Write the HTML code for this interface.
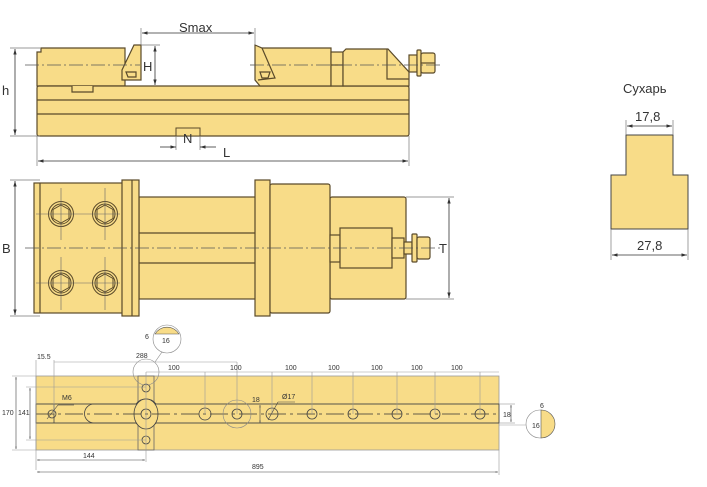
<!DOCTYPE html>
<html><head><meta charset="utf-8"><style>
html,body{margin:0;padding:0;background:#fff;}
svg{display:block;}
text{font-family:"Liberation Sans","Noto Sans CJK SC",sans-serif;fill:#333;}
</style></head><body>
<svg width="707" height="487" viewBox="0 0 707 487" xmlns="http://www.w3.org/2000/svg">
<defs>
<marker id="a" viewBox="0 0 10 10" refX="10" refY="5" markerWidth="7" markerHeight="7" orient="auto-start-reverse"><path d="M0,2 L10,5 L0,8 z" fill="#333"/></marker>
<marker id="s" viewBox="0 0 10 10" refX="10" refY="5" markerWidth="4" markerHeight="4" orient="auto-start-reverse"><path d="M0,2 L10,5 L0,8 z" fill="#555"/></marker>
</defs>
<g fill="#f8dc88" stroke="#5a4a2a" stroke-width="1.2">
<!-- TOP VIEW -->
<path d="M37,86 L37,52 L41,52 L41,48 L125,48 L125,86 Z"/>
<rect x="37" y="86" width="372" height="50" rx="2"/>
<path d="M72,86 L72,92 L93,92 L93,86" fill="#f8dc88"/>
<line x1="37" y1="100" x2="409" y2="100"/>
<line x1="37" y1="114" x2="409" y2="114"/>
<path d="M134,45 L141,45 L141,80 L122,80 L122,70 Z"/>
<path d="M126,72 L136,72 L136,77 L128,77 Z"/>
<path d="M255,45 L262,48 L331,48 L331,86 L260,86 L255,80 Z"/>
<path d="M262,48 L275,78 L258,80"/>
<path d="M260,72 L270,72 L268,78 L262,78 Z"/>
<rect x="331" y="52" width="12" height="34"/>
<line x1="331" y1="65" x2="343" y2="65"/>
<path d="M346,49 L388,49 L409,72 L409,86 L343,86 L343,52 Z"/>
<path d="M387,49 L387,79 L409,79"/>
<rect x="409" y="55" width="8" height="17"/>
<rect x="417" y="50" width="4" height="26" rx="1"/>
<rect x="421" y="53" width="14" height="20" rx="2"/>
<line x1="421" y1="63" x2="435" y2="63"/>
<rect x="176" y="128" width="24" height="8" stroke-width="1"/>
<!-- MIDDLE VIEW -->
<rect x="139" y="197" width="120" height="102"/>
<line x1="139" y1="233" x2="255" y2="233"/>
<line x1="139" y1="263" x2="255" y2="263"/>
<rect x="330" y="197" width="76" height="102" rx="2"/>
<rect x="34" y="183" width="90" height="130"/>
<line x1="40" y1="183" x2="40" y2="313"/>
<rect x="122" y="180" width="17" height="136"/>
<line x1="132" y1="180" x2="132" y2="316"/>
<rect x="255" y="180" width="15" height="136"/>
<rect x="270" y="184" width="60" height="129" rx="2"/>
<rect x="330" y="235" width="10" height="27"/>
<rect x="340" y="228" width="52" height="40"/>
<rect x="392" y="238" width="12" height="20"/>
<rect x="404" y="242" width="8" height="12"/>
<rect x="412" y="234" width="5" height="28" rx="1"/>
<rect x="417" y="237" width="13" height="22" rx="2"/>
</g>
<g fill="none" stroke="#5a4a2a" stroke-width="1">
<g id="b"><circle cx="61" cy="214" r="12.5"/><polygon points="61,205 69,209.5 69,218.5 61,223 53,218.5 53,209.5"/><circle cx="61" cy="214" r="10"/></g>
<use href="#b" x="44"/><use href="#b" y="69"/><use href="#b" x="44" y="69"/>
</g>
<g stroke="#666" stroke-width="0.6">
<line x1="36" y1="214" x2="120" y2="214"/><line x1="36" y1="283" x2="120" y2="283"/>
<line x1="61" y1="188" x2="61" y2="240"/><line x1="105" y1="188" x2="105" y2="240"/>
<line x1="61" y1="257" x2="61" y2="310"/><line x1="105" y1="257" x2="105" y2="310"/>
</g>
<g stroke="#555" stroke-width="0.8" stroke-dasharray="14,3,2,3">
<line x1="25" y1="65" x2="140" y2="65"/><line x1="250" y1="65" x2="440" y2="65"/>
<line x1="25" y1="248" x2="440" y2="248"/>
</g>
<!-- dims top/middle -->
<g stroke="#777" stroke-width="0.7" fill="none">
<line x1="10" y1="48" x2="40" y2="48"/><line x1="10" y1="136" x2="40" y2="136"/>
<line x1="141" y1="28" x2="141" y2="45"/><line x1="255" y1="28" x2="255" y2="45"/>
<line x1="141" y1="45" x2="160" y2="45"/>
<line x1="37" y1="136" x2="37" y2="166"/><line x1="409" y1="136" x2="409" y2="166"/>
<line x1="176" y1="136" x2="176" y2="150"/><line x1="200" y1="136" x2="200" y2="150"/>
<line x1="10" y1="180" x2="40" y2="180"/><line x1="10" y1="316" x2="40" y2="316"/>
<line x1="406" y1="197" x2="454" y2="197"/><line x1="406" y1="299" x2="454" y2="299"/>
</g>
<g stroke="#333" stroke-width="0.8">
<line x1="15" y1="49" x2="15" y2="135" marker-start="url(#a)" marker-end="url(#a)"/>
<line x1="142" y1="33" x2="254" y2="33" marker-start="url(#a)" marker-end="url(#a)"/>
<line x1="155" y1="46" x2="155" y2="85" marker-start="url(#a)" marker-end="url(#a)"/>
<line x1="38" y1="161" x2="408" y2="161" marker-start="url(#a)" marker-end="url(#a)"/>
<line x1="160" y1="147" x2="176" y2="147" marker-end="url(#a)"/>
<line x1="216" y1="147" x2="200" y2="147" marker-end="url(#a)"/>
<line x1="15" y1="181" x2="15" y2="315" marker-start="url(#a)" marker-end="url(#a)"/>
<line x1="449" y1="198" x2="449" y2="298" marker-start="url(#a)" marker-end="url(#a)"/>
</g>
<g font-size="13">
<text x="2" y="95">h</text>
<text x="179" y="32">Smax</text>
<text x="143" y="71">H</text>
<text x="183" y="143">N</text>
<text x="223" y="157">L</text>
<text x="2" y="253">B</text>
<text x="439" y="253">T</text>
</g>
<!-- SUKHAR -->
<text x="623" y="93" font-size="13">Сухарь</text>
<path d="M626,135 L673,135 L673,175 L688,175 L688,229 L611,229 L611,175 L626,175 Z" fill="#f8dc88" stroke="#444" stroke-width="1"/>
<g stroke="#777" stroke-width="0.7"><line x1="626" y1="120" x2="626" y2="135"/><line x1="673" y1="120" x2="673" y2="135"/><line x1="611" y1="229" x2="611" y2="260"/><line x1="688" y1="229" x2="688" y2="260"/></g>
<line x1="627" y1="126" x2="672" y2="126" stroke="#333" stroke-width="0.8" marker-start="url(#a)" marker-end="url(#a)"/>
<line x1="612" y1="255" x2="687" y2="255" stroke="#333" stroke-width="0.8" marker-start="url(#a)" marker-end="url(#a)"/>
<text x="635" y="121" font-size="13">17,8</text>
<text x="637" y="250" font-size="13">27,8</text>
<!-- BOTTOM VIEW -->
<rect x="36" y="376" width="463" height="74" fill="#f8dc88" stroke="#999" stroke-width="0.8"/>
<rect x="138" y="376" width="16" height="74" fill="#f8dc88" stroke="#666" stroke-width="0.8"/>
<rect x="36" y="404" width="463" height="19" fill="#f8dc88" stroke="#444" stroke-width="0.9"/>
<path d="M54,404 L54,423" stroke="#444" stroke-width="0.8"/>
<path d="M94,404 L136,404 A13,14 0 0 1 156,404 L156,404 M94,423 L136,423 A13,14 0 0 0 156,423" fill="none" stroke="#444" stroke-width="0.8"/>
<path d="M94,404 A9.5,9.5 0 0 0 94,423" fill="none" stroke="#444" stroke-width="0.8"/>
<ellipse cx="146" cy="414" rx="12" ry="15" fill="#f8dc88" stroke="#444" stroke-width="0.8"/>
<line x1="36" y1="414" x2="499" y2="414" stroke="#333" stroke-width="0.8" stroke-dasharray="18,4,3,4"/>
<g fill="none" stroke="#444" stroke-width="0.8">
<circle cx="146" cy="414" r="5"/><circle cx="146" cy="388" r="4"/><circle cx="146" cy="440" r="4"/>
<circle cx="52" cy="414" r="4"/>
<circle cx="205" cy="414" r="6"/><circle cx="237" cy="414" r="5"/><circle cx="272" cy="414" r="6"/>
<circle cx="312" cy="414" r="5"/><circle cx="353" cy="414" r="5"/><circle cx="397" cy="414" r="5"/>
<circle cx="435" cy="414" r="5"/><circle cx="480" cy="414" r="5"/>
</g>
<g fill="none" stroke="#888" stroke-width="0.6">
<circle cx="237" cy="414" r="14"/>
<circle cx="146" cy="372" r="13"/>
<circle cx="167" cy="339" r="14"/>
<circle cx="540" cy="424" r="14"/>
<line x1="155" y1="362" x2="162" y2="352"/>
</g>
<path d="M155,334 A14,14 0 0 1 179,334 Z" fill="#f8dc88" stroke="#555" stroke-width="0.6"/>
<path d="M541,410 A14,14 0 0 1 541,438 Z" fill="#f8dc88" stroke="#555" stroke-width="0.6"/>
<g stroke="#999" stroke-width="0.6">
<line x1="36" y1="360" x2="36" y2="470"/><line x1="54" y1="360" x2="54" y2="414"/>
<line x1="146" y1="372" x2="146" y2="462"/><line x1="499" y1="450" x2="499" y2="475"/>
<line x1="54" y1="362" x2="237" y2="362"/><line x1="146" y1="372" x2="499" y2="372"/>
<line x1="205" y1="372" x2="205" y2="414"/><line x1="237" y1="362" x2="237" y2="414"/>
<line x1="272" y1="372" x2="272" y2="414"/><line x1="312" y1="372" x2="312" y2="414"/>
<line x1="353" y1="372" x2="353" y2="414"/><line x1="397" y1="372" x2="397" y2="414"/>
<line x1="435" y1="372" x2="435" y2="414"/><line x1="480" y1="372" x2="480" y2="414"/>
<line x1="12" y1="376" x2="36" y2="376"/><line x1="12" y1="450" x2="36" y2="450"/>
<line x1="26" y1="387" x2="146" y2="387"/><line x1="26" y1="440" x2="146" y2="440"/>
<line x1="499" y1="404" x2="515" y2="404"/><line x1="499" y1="423" x2="515" y2="423"/>
<line x1="499" y1="425" x2="526" y2="425"/>
</g>
<g stroke="#444" stroke-width="0.6">
<line x1="16" y1="377" x2="16" y2="449" marker-start="url(#s)" marker-end="url(#s)"/>
<line x1="30" y1="388" x2="30" y2="439" marker-start="url(#s)" marker-end="url(#s)"/>
<line x1="37" y1="460" x2="145" y2="460" marker-start="url(#s)" marker-end="url(#s)"/>
<line x1="37" y1="472" x2="498" y2="472" marker-start="url(#s)" marker-end="url(#s)"/>
<line x1="511" y1="405" x2="511" y2="422" marker-start="url(#s)" marker-end="url(#s)"/>
<line x1="260" y1="405" x2="260" y2="423" marker-start="url(#s)" marker-end="url(#s)"/>
<line x1="47" y1="419" x2="58" y2="405"/><line x1="58" y1="405" x2="74" y2="405"/>
<line x1="268" y1="420" x2="278" y2="402"/><line x1="278" y1="402" x2="295" y2="402"/>
</g>
<g font-size="7" fill="#444">
<text x="37" y="359">15.5</text><text x="136" y="358">288</text>
<text x="168" y="370">100</text><text x="230" y="370">100</text><text x="285" y="370">100</text>
<text x="328" y="370">100</text><text x="371" y="370">100</text><text x="411" y="370">100</text><text x="451" y="370">100</text>
<text x="62" y="400">M6</text><text x="252" y="402">18</text><text x="282" y="399">Ø17</text>
<text x="2" y="415">170</text><text x="18" y="415">141</text>
<text x="83" y="458">144</text><text x="252" y="469">895</text>
<text x="503" y="417">18</text><text x="540" y="408">6</text><text x="532" y="428">16</text>
<text x="145" y="339">6</text><text x="162" y="343">16</text>
</g>
</svg>
</body></html>
